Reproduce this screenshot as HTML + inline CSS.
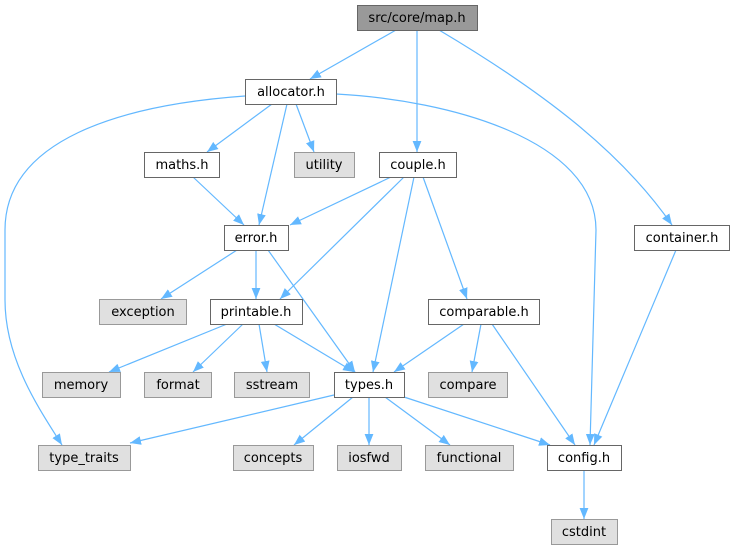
<!DOCTYPE html>
<html><head><meta charset="utf-8"><style>
html,body{margin:0;padding:0;background:#fff;}
svg{display:block;}
text{font-family:"DejaVu Sans","Liberation Sans",sans-serif;font-size:13px;fill:#000;text-anchor:middle;}
</style></head><body>
<svg width="734" height="549" viewBox="0 0 734 549" xmlns="http://www.w3.org/2000/svg">
<defs>
<marker id="a" viewBox="0 0 10 8" refX="10" refY="4" markerWidth="11" markerHeight="9" markerUnits="userSpaceOnUse" orient="auto">
<path d="M0,0 L10,4 L0,8 z" fill="#63b8ff"/>
</marker>
</defs>
<g fill="none" stroke="#63b8ff" stroke-width="1.2" marker-end="url(#a)">
<path d="M396,30 L310,79"/>
<path d="M417,30 L417,152"/>
<path d="M439,30 C540,90 620,150 672,225"/>
<path d="M245,96 C120,105 5,140 5,230 L5,300 C5,360 40,410 62,445"/>
<path d="M336,94 C450,100 596,140 596,230 L590,445"/>
<path d="M272,104 L207,152"/>
<path d="M287,104 L259,225"/>
<path d="M296,104 L314,152"/>
<path d="M193,177 L244,225"/>
<path d="M391,177 L290,225"/>
<path d="M404,177 L280,299"/>
<path d="M414,177 L373,372"/>
<path d="M423,177 L467,299"/>
<path d="M676,250 L594,445"/>
<path d="M237,250 L161,299"/>
<path d="M256,250 L256,299"/>
<path d="M268,250 L355,372"/>
<path d="M227,324 L109,372"/>
<path d="M243,324 L193,372"/>
<path d="M259,324 L267,372"/>
<path d="M274,324 L354,372"/>
<path d="M464,324 L394,372"/>
<path d="M481,324 L472,372"/>
<path d="M492,324 L575,445"/>
<path d="M334,395 L130,443"/>
<path d="M353,397 L294,445"/>
<path d="M369,397 L369,445"/>
<path d="M385,397 L450,445"/>
<path d="M404,397 L550,445"/>
<path d="M584,470 L584,519"/>
</g>
<g stroke-width="1">
<rect x="357.5" y="5.5" width="120" height="25" fill="#999" stroke="#666"/>
<rect x="245.5" y="79.5" width="91" height="25" fill="#fff" stroke="#666"/>
<rect x="144.5" y="152.5" width="75" height="25" fill="#fff" stroke="#666"/>
<rect x="294.5" y="152.5" width="60" height="25" fill="#e0e0e0" stroke="#999"/>
<rect x="379.5" y="152.5" width="77" height="25" fill="#fff" stroke="#666"/>
<rect x="224.5" y="225.5" width="64" height="25" fill="#fff" stroke="#666"/>
<rect x="634.5" y="225.5" width="95" height="25" fill="#fff" stroke="#666"/>
<rect x="99.5" y="299.5" width="87" height="25" fill="#e0e0e0" stroke="#999"/>
<rect x="210.5" y="299.5" width="92" height="25" fill="#fff" stroke="#666"/>
<rect x="428.5" y="299.5" width="111" height="25" fill="#fff" stroke="#666"/>
<rect x="42.5" y="372.5" width="78" height="25" fill="#e0e0e0" stroke="#999"/>
<rect x="144.5" y="372.5" width="67" height="25" fill="#e0e0e0" stroke="#999"/>
<rect x="234.5" y="372.5" width="75" height="25" fill="#e0e0e0" stroke="#999"/>
<rect x="334.5" y="372.5" width="70" height="25" fill="#fff" stroke="#666"/>
<rect x="428.5" y="372.5" width="79" height="25" fill="#e0e0e0" stroke="#999"/>
<rect x="38.5" y="445.5" width="92" height="25" fill="#e0e0e0" stroke="#999"/>
<rect x="233.5" y="445.5" width="80" height="25" fill="#e0e0e0" stroke="#999"/>
<rect x="337.5" y="445.5" width="64" height="25" fill="#e0e0e0" stroke="#999"/>
<rect x="425.5" y="445.5" width="88" height="25" fill="#e0e0e0" stroke="#999"/>
<rect x="547.5" y="445.5" width="74" height="25" fill="#fff" stroke="#666"/>
<rect x="551.5" y="519.5" width="66" height="25" fill="#e0e0e0" stroke="#999"/>
</g>
<text x="417" y="22">src/core/map.h</text>
<text x="291" y="96">allocator.h</text>
<text x="182" y="169">maths.h</text>
<text x="324" y="169">utility</text>
<text x="418" y="169">couple.h</text>
<text x="256" y="242">error.h</text>
<text x="682" y="242">container.h</text>
<text x="143" y="316">exception</text>
<text x="256" y="316">printable.h</text>
<text x="484" y="316">comparable.h</text>
<text x="81" y="389">memory</text>
<text x="178" y="389">format</text>
<text x="272" y="389">sstream</text>
<text x="369" y="389">types.h</text>
<text x="468" y="389">compare</text>
<text x="84" y="462">type_traits</text>
<text x="273" y="462">concepts</text>
<text x="369" y="462">iosfwd</text>
<text x="469" y="462">functional</text>
<text x="584" y="462">config.h</text>
<text x="584" y="536">cstdint</text>
</svg>
</body></html>
